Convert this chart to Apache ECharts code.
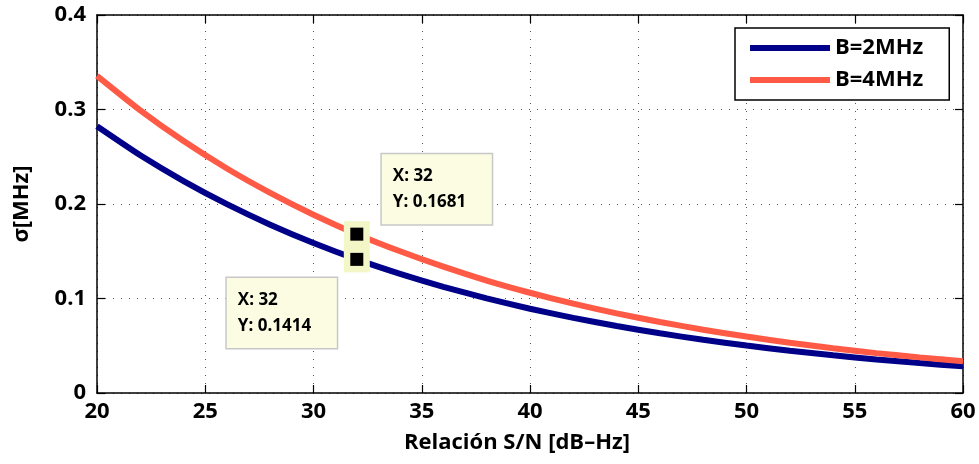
<!DOCTYPE html>
<html>
<head>
<meta charset="utf-8">
<script src="https://cdn.jsdelivr.net/npm/echarts@6/dist/echarts.min.js"></script>
<style>html,body{margin:0;padding:0;background:#fff}#c{width:979px;height:464px}</style>
</head>
<body>
<div id="c"></div>
<script>
// S/N values (dB-Hz)
var snr = [20, 22, 24, 26, 28, 30, 32, 34, 36, 38, 40, 42, 44, 46, 48, 50, 52, 54, 56, 58, 60];
// sigma [MHz], B = 2 MHz
var sigmaB2 = [0.2822, 0.2515, 0.2242, 0.1998, 0.1781, 0.1587, 0.1414, 0.1261, 0.1124, 0.1001, 0.0892,
               0.0795, 0.0709, 0.0632, 0.0563, 0.0502, 0.0447, 0.0399, 0.0355, 0.0317, 0.0282];
// sigma [MHz], B = 4 MHz
var sigmaB4 = [0.3356, 0.2991, 0.2666, 0.2376, 0.2118, 0.1887, 0.1681, 0.1500, 0.1337, 0.1190, 0.1061,
               0.0945, 0.0843, 0.0752, 0.0670, 0.0597, 0.0532, 0.0474, 0.0422, 0.0377, 0.0335];
var seriesNames = ['B=2MHz', 'B=4MHz'];
// data tips
var tipX = [32, 32];
var tipY = [0.1681, 0.1414];
var xTickLabels = ['20', '25', '30', '35', '40', '45', '50', '55', '60'];
var yTickLabels = ['0', '0.1', '0.2', '0.3', '0.4'];

var FONT = "'Open Sans', sans-serif";
var chart = echarts.init(document.getElementById('c'), null, {renderer: 'canvas'});

function pairs(xs, ys) { return xs.map(function (x, i) { return [x, ys[i]]; }); }

var gridLine = {show: true, lineStyle: {color: '#555', width: 1, type: [1, 7]}};
var axisLine = {show: true, onZero: false, lineStyle: {color: '#000', width: 1.5}};
var tick = {show: true, inside: true, length: 8, lineStyle: {color: '#000', width: 1.2}};
var lbl = {fontFamily: FONT, fontWeight: 'bold', fontSize: 22, color: '#000'};

var option = {
  animation: false,
  backgroundColor: '#fff',
  grid: {left: 97, right: 16, top: 15, bottom: 71, containLabel: false},
  xAxis: [{
    type: 'value', min: 20, max: 60, interval: 5, position: 'bottom',
    axisLine: axisLine, axisTick: tick, splitLine: gridLine,
    axisLabel: Object.assign({margin: 8, formatter: function (v) { return xTickLabels[(v - 20) / 5]; }}, lbl),
    name: 'Relación S/N [dB–Hz]', nameLocation: 'middle', nameGap: 39,
    nameTextStyle: {fontFamily: FONT, fontWeight: 'bold', fontSize: 22, color: '#000', padding: [0, 26, 0, 0]}
  }, {
    type: 'value', min: 20, max: 60, interval: 5, position: 'top',
    axisLine: axisLine, axisTick: tick, splitLine: {show: false}, axisLabel: {show: false}
  }],
  yAxis: [{
    type: 'value', min: 0, max: 0.4, interval: 0.1, position: 'left',
    axisLine: axisLine, axisTick: tick, splitLine: gridLine,
    axisLabel: Object.assign({margin: 11, formatter: function (v) { return yTickLabels[Math.round(v * 10)]; }}, lbl),
    name: 'σ[MHz]', nameLocation: 'middle', nameGap: 64, nameRotate: 90,
    nameTextStyle: {fontFamily: FONT, fontWeight: 'bold', fontSize: 22, color: '#000'}
  }, {
    type: 'value', min: 0, max: 0.4, interval: 0.1, position: 'right',
    axisLine: axisLine, axisTick: tick, splitLine: {show: false}, axisLabel: {show: false}
  }],
  legend: {
    left: 735, top: 28, orient: 'vertical',
    data: seriesNames,
    icon: 'rect', itemWidth: 80, itemHeight: 6, itemGap: 6, itemTextGap: 9,
    padding: [7, 26, 7, 15],
    borderColor: '#000', borderWidth: 1.5, backgroundColor: '#fff',
    textStyle: {fontFamily: FONT, fontWeight: 'bold', fontSize: 22, color: '#000', lineHeight: 26}
  },
  series: [{
    name: seriesNames[0], type: 'line', data: pairs(snr, sigmaB2),
    showSymbol: false, smooth: 0.2, color: '#000088',
    lineStyle: {width: 6, color: '#000088'}
  }, {
    name: seriesNames[1], type: 'line', data: pairs(snr, sigmaB4),
    showSymbol: false, smooth: 0.2, color: '#ff5a45',
    lineStyle: {width: 6, color: '#ff5a45'}
  }, {
    name: 'halo', type: 'scatter', data: pairs(tipX, tipY),
    symbol: 'rect', symbolSize: 26, itemStyle: {color: '#f3f6c6', opacity: 1}, z: 5, silent: true
  }, {
    name: 'tips', type: 'scatter', symbol: 'rect', symbolSize: 13, z: 6, silent: true,
    itemStyle: {color: '#000', opacity: 1},
    data: [{
      value: [tipX[0], tipY[0]],
      label: {position: [31.5, -73.5]}
    }, {
      value: [tipX[1], tipY[1]],
      label: {position: [-123.5, 25]}
    }],
    label: {
      show: true,
      formatter: function (p) { return 'X: ' + p.value[0] + '\nY: ' + p.value[1].toFixed(4); },
      fontFamily: FONT, fontWeight: 'bold', fontSize: 17, color: '#000', lineHeight: 26,
      backgroundColor: '#fbfce2', borderColor: '#c8c8c8', borderWidth: 1.5,
      padding: [9, 11], width: 88, align: 'left'
    }
  }]
};
chart.setOption(option);
</script>
</body>
</html>
